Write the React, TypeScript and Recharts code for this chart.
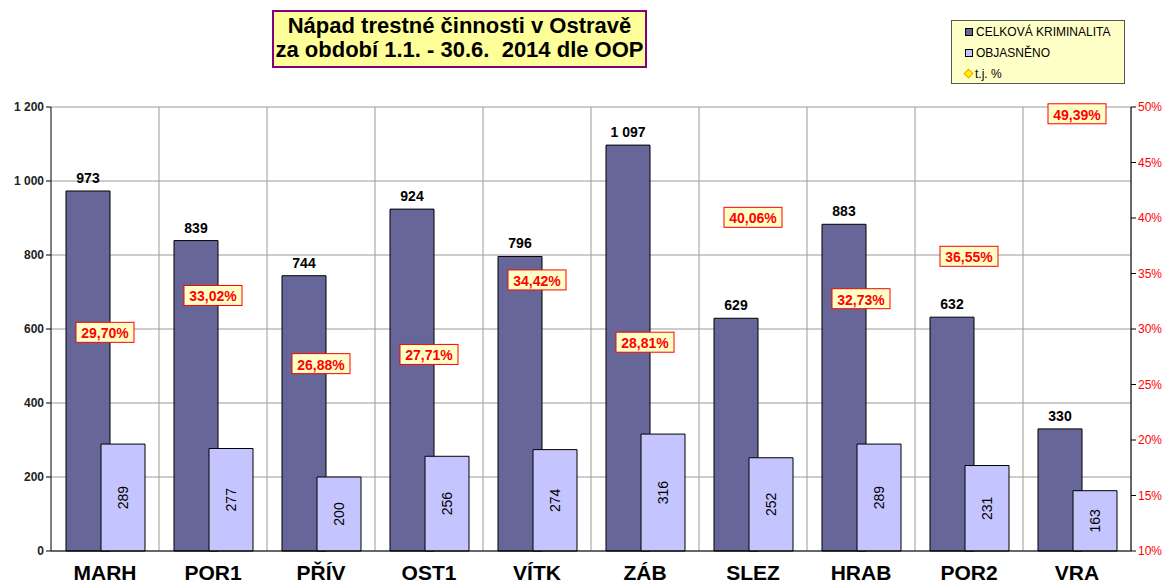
import React from "react";
import { ComposedChart, Bar, Line, XAxis, YAxis, CartesianGrid, LabelList } from "recharts";

// Nápad trestné činnosti v Ostravě, 1.1. - 30.6. 2014, po OOP
const districts = ["MARH", "POR1", "PŘÍV", "OST1", "VÍTK", "ZÁB", "SLEZ", "HRAB", "POR2", "VRA"];
const totalCrime = [973, 839, 744, 924, 796, 1097, 629, 883, 632, 330];
const solved = [289, 277, 200, 256, 274, 316, 252, 289, 231, 163];
const solvedPct = [29.7, 33.02, 26.88, 27.71, 34.42, 28.81, 40.06, 32.73, 36.55, 49.39];
const countTicks = [0, 200, 400, 600, 800, 1000, 1200];
const pctTicks = [10, 15, 20, 25, 30, 35, 40, 45, 50];

const data = districts.map((name, i) => ({
  name,
  total: totalCrime[i],
  solved: solved[i],
  pct: solvedPct[i],
}));

const FONT = "Arial, 'Liberation Sans', sans-serif";
const DARK = "#666699";
const LIGHT = "#c4c4ff";

const fmtCount = (n: number) =>
  n >= 1000 ? `${Math.floor(n / 1000)} ${String(n % 1000).padStart(3, "0")}` : String(n);
const fmtPct = (v: number) => `${v.toFixed(2).replace(".", ",")}%`;

function SolvedLabel(props: any) {
  const { x, y, width, height, value } = props;
  const cx = x + width / 2;
  const cy = y + height / 2;
  return (
    <text
      x={cx}
      y={cy}
      transform={`rotate(-90 ${cx} ${cy})`}
      textAnchor="middle"
      dominantBaseline="central"
      fontFamily={FONT}
      fontSize={14}
      fill="#000"
    >
      {value}
    </text>
  );
}

function PctLabel(props: any) {
  const { x, y, value } = props;
  if (x == null || y == null) return null;
  const w = 58;
  const h = 20;
  return (
    <g>
      <rect x={x - w / 2} y={y - h / 2} width={w} height={h} fill="#ffffc8" stroke="#ff0000" strokeWidth={1} />
      <text
        x={x}
        y={y + 1}
        textAnchor="middle"
        dominantBaseline="central"
        fontFamily={FONT}
        fontSize={14}
        fontWeight="bold"
        fill="#ff0000"
      >
        {fmtPct(value)}
      </text>
    </g>
  );
}

// Tick for the district names, baseline placed just above the picture's bottom edge
function DistrictTick(props: any) {
  const { x, y, payload } = props;
  return (
    <text
      x={x}
      y={y + 27}
      textAnchor="middle"
      fontFamily={FONT}
      fontSize={21}
      fontWeight="bold"
      fill="#000"
    >
      {payload.value}
    </text>
  );
}

function LegendBox() {
  const items = [
    { label: "CELKOVÁ KRIMINALITA", marker: "dark" },
    { label: "OBJASNĚNO", marker: "light" },
    { label: "t.j. %", marker: "diamond" },
  ];
  return (
    <div
      style={{
        position: "absolute",
        left: 951,
        top: 20,
        width: 172,
        height: 62,
        background: "#ffffc8",
        border: "1px solid #555",
        fontFamily: FONT,
        fontSize: 12,
        color: "#000",
      }}
    >
      {items.map((it, i) => (
        <div key={it.label} style={{ position: "absolute", left: 13, top: 3 + i * 21, display: "flex", alignItems: "center", height: 15 }}>
          {it.marker === "diamond" ? (
            <span
              style={{
                display: "inline-block",
                width: 5,
                height: 5,
                background: "#ffff00",
                border: "1px solid #ff9900",
                transform: "rotate(45deg)",
                marginRight: 3,
              }}
            />
          ) : (
            <span
              style={{
                display: "inline-block",
                width: 6,
                height: 6,
                background: it.marker === "dark" ? DARK : LIGHT,
                border: "1px solid #000",
                marginRight: 3,
              }}
            />
          )}
          {it.label}
        </div>
      ))}
    </div>
  );
}

export default function App() {
  return (
    <div style={{ position: "absolute", left: 0, top: 0, width: 1167, height: 588, background: "#fff" }}>
      <div
        style={{
          position: "absolute",
          left: 272,
          top: 10,
          width: 371,
          height: 52,
          background: "#ffff99",
          border: "2px solid #800080",
          fontFamily: FONT,
          fontSize: 22,
          fontWeight: "bold",
          textAlign: "center",
          lineHeight: "24px",
          paddingTop: 2,
          color: "#000",
          whiteSpace: "nowrap",
        }}
      >
        Nápad trestné činnosti v Ostravě
        <br />
        za období 1.1. - 30.6.&nbsp; 2014 dle OOP
      </div>
      <LegendBox />
      <ComposedChart
        width={1167}
        height={588}
        data={data}
        margin={{ top: 107, right: 0, bottom: 0, left: 0 }}
        barSize={44}
        barGap={-9}
        style={{ position: "absolute", left: 0, top: 0 }}
      >
        <CartesianGrid
          yAxisId="count"
          stroke="#9a9a9a"
          verticalCoordinatesGenerator={({ offset }: any) =>
            districts.map((_, i) => offset.left + ((i + 1) * offset.width) / districts.length)
          }
        />
        <XAxis
          dataKey="name"
          height={37}
          axisLine={{ stroke: "#000" }}
          tickLine={false}
          tickSize={0}
          tick={<DistrictTick />}
          interval={0}
        />
        <YAxis
          yAxisId="count"
          width={51}
          domain={[0, 1200]}
          ticks={countTicks}
          tickFormatter={fmtCount}
          axisLine={{ stroke: "#000" }}
          tickLine={{ stroke: "#000" }}
          tickSize={5}
          tick={{ fontFamily: FONT, fontSize: 12, fontWeight: "bold", fill: "#222" }}
          interval={0}
        />
        <YAxis
          yAxisId="pct"
          orientation="right"
          width={36}
          domain={[10, 50]}
          ticks={pctTicks}
          tickFormatter={(v: number) => `${v}%`}
          axisLine={{ stroke: "#000" }}
          tickLine={{ stroke: "#000" }}
          tickSize={5}
          tick={{ fontFamily: FONT, fontSize: 12, fill: "#ff0000" }}
          interval={0}
        />
        <Bar yAxisId="count" dataKey="total" fill={DARK} stroke="#000" strokeWidth={1} isAnimationActive={false}>
          <LabelList
            dataKey="total"
            position="top"
            offset={8}
            formatter={(v: any) => fmtCount(Number(v))}
            style={{ fontFamily: FONT, fontSize: 14, fontWeight: "bold", fill: "#000" }}
          />
        </Bar>
        <Bar yAxisId="count" dataKey="solved" fill={LIGHT} stroke="#000" strokeWidth={1} isAnimationActive={false}>
          <LabelList dataKey="solved" content={SolvedLabel} />
        </Bar>
        <Line
          yAxisId="pct"
          dataKey="pct"
          stroke="none"
          dot={false}
          activeDot={false}
          isAnimationActive={false}
          label={PctLabel}
        />
      </ComposedChart>
    </div>
  );
}
